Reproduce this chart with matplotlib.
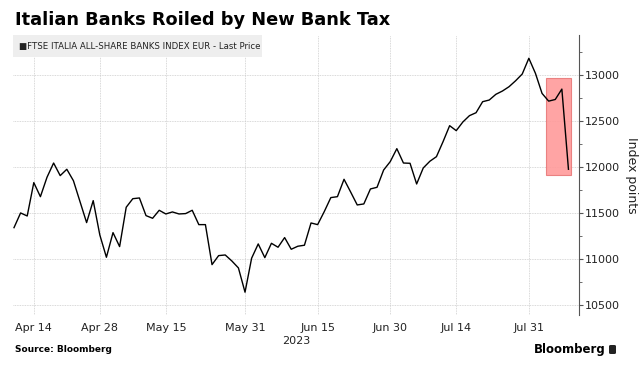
import matplotlib.pyplot as plt
import matplotlib.patches as patches
from matplotlib.ticker import MultipleLocator
import pandas as pd

# trading days (Borsa Italiana closed on May 1)
dates = pd.bdate_range("2023-04-11", "2023-08-08", freq="C", holidays=["2023-05-01"])

values = [
    11340, 11500, 11467, 11830, 11677, 11888, 12043, 11906, 11975, 11851,
    11623, 11395, 11634, 11261, 11018, 11286, 11134, 11562, 11655, 11663,
    11471, 11442, 11529, 11489, 11511, 11489, 11493, 11529, 11373, 11373,
    10938, 11036, 11043, 10978, 10902, 10638, 11008, 11163, 11014, 11170,
    11127, 11232, 11105, 11138, 11149, 11391, 11373, 11514, 11667, 11677,
    11866, 11728, 11587, 11598, 11761, 11779, 11967, 12058, 12199, 12043,
    12040, 11815, 11989, 12062, 12112, 12275, 12449, 12395, 12489, 12558,
    12590, 12710, 12728, 12790, 12826, 12873, 12938, 13011, 13182, 13018,
    12800, 12716, 12734, 12847, 11975,
]

tick_dates = ["2023-04-14", "2023-04-28", "2023-05-15", "2023-05-31",
              "2023-06-15", "2023-06-30", "2023-07-14", "2023-07-31"]
highlight_start = 81  # first day inside the red box

x = list(range(len(values)))
tick_pos = [dates.get_loc(pd.Timestamp(d)) for d in tick_dates]
tick_lab = [pd.Timestamp(d).strftime("%b %d") for d in tick_dates]

fig = plt.figure(figsize=(6.41, 3.69), dpi=100)
ax = fig.add_axes([0.0203, 0.1463, 0.883, 0.7588])

ax.grid(True, color="#cccccc", lw=0.6, ls=(0, (1, 1)))
ax.set_axisbelow(True)

# red highlight box around the last days
hv = values[highlight_start:]
box = patches.Rectangle((highlight_start - 0.4, min(hv) - 60), len(hv) - 0.2,
                        max(hv) - min(hv) + 178, facecolor="#ff9a9a",
                        edgecolor="#e87878", lw=0.8, alpha=0.9, zorder=2)
ax.add_patch(box)

ax.plot(x, values, color="black", lw=1.0, zorder=3)

ax.set_xlim(-0.15, 85.6)
ax.set_ylim(10390, 13435)
ax.set_xticks(tick_pos)
ax.set_xticklabels(tick_lab)
ax.yaxis.set_major_locator(MultipleLocator(500))
ax.yaxis.set_minor_locator(MultipleLocator(250))
ax.yaxis.tick_right()
ax.yaxis.set_label_position("right")
ax.set_ylabel("Index points", rotation=270, labelpad=13, fontsize=9, color="#222222")

for s in ["left", "top", "bottom"]:
    ax.spines[s].set_visible(False)
ax.spines["right"].set_color("#555555")
ax.tick_params(axis="x", length=0, labelsize=8, pad=6, labelcolor="#222222")
ax.tick_params(axis="y", which="major", length=3, color="#555555", labelsize=8, pad=1,
               labelcolor="#222222")
ax.tick_params(axis="y", which="minor", length=2, color="#555555")
ax.grid(False, which="minor")

ax.text(0.5, -0.075, "2023", transform=ax.transAxes, ha="center", va="top",
        fontsize=8, color="#222222")

fig.text(15 / 641, 1 - 20 / 369, "Italian Banks Roiled by New Bank Tax",
         fontsize=12.8, fontweight="bold", va="center", ha="left")

legbox = patches.Rectangle((13 / 641, 1 - 57 / 369), 249 / 641, 22 / 369,
                           transform=fig.transFigure, facecolor="#eeeeee",
                           edgecolor="none", zorder=5)
fig.patches.append(legbox)
fig.text(19 / 641, 1 - 46 / 369, "■FTSE ITALIA ALL-SHARE BANKS INDEX EUR - Last Price",
         fontsize=6.2, va="center", ha="left", zorder=6, color="#222222")

fig.text(15 / 641, 1 - 350 / 369, "Source: Bloomberg", fontsize=6.5,
         fontweight="bold", va="center", ha="left")
fig.text(606 / 641, 1 - 349 / 369, "Bloomberg", fontsize=8.5,
         fontweight="semibold", va="center", ha="right")
logo = patches.FancyBboxPatch((609 / 641, 1 - 354 / 369), 7 / 641, 9 / 369,
                              boxstyle="round,pad=0,rounding_size=0.003",
                              transform=fig.transFigure, facecolor="#222222",
                              edgecolor="none")
fig.patches.append(logo)

fig.savefig("out.png", dpi=100, facecolor="white")
